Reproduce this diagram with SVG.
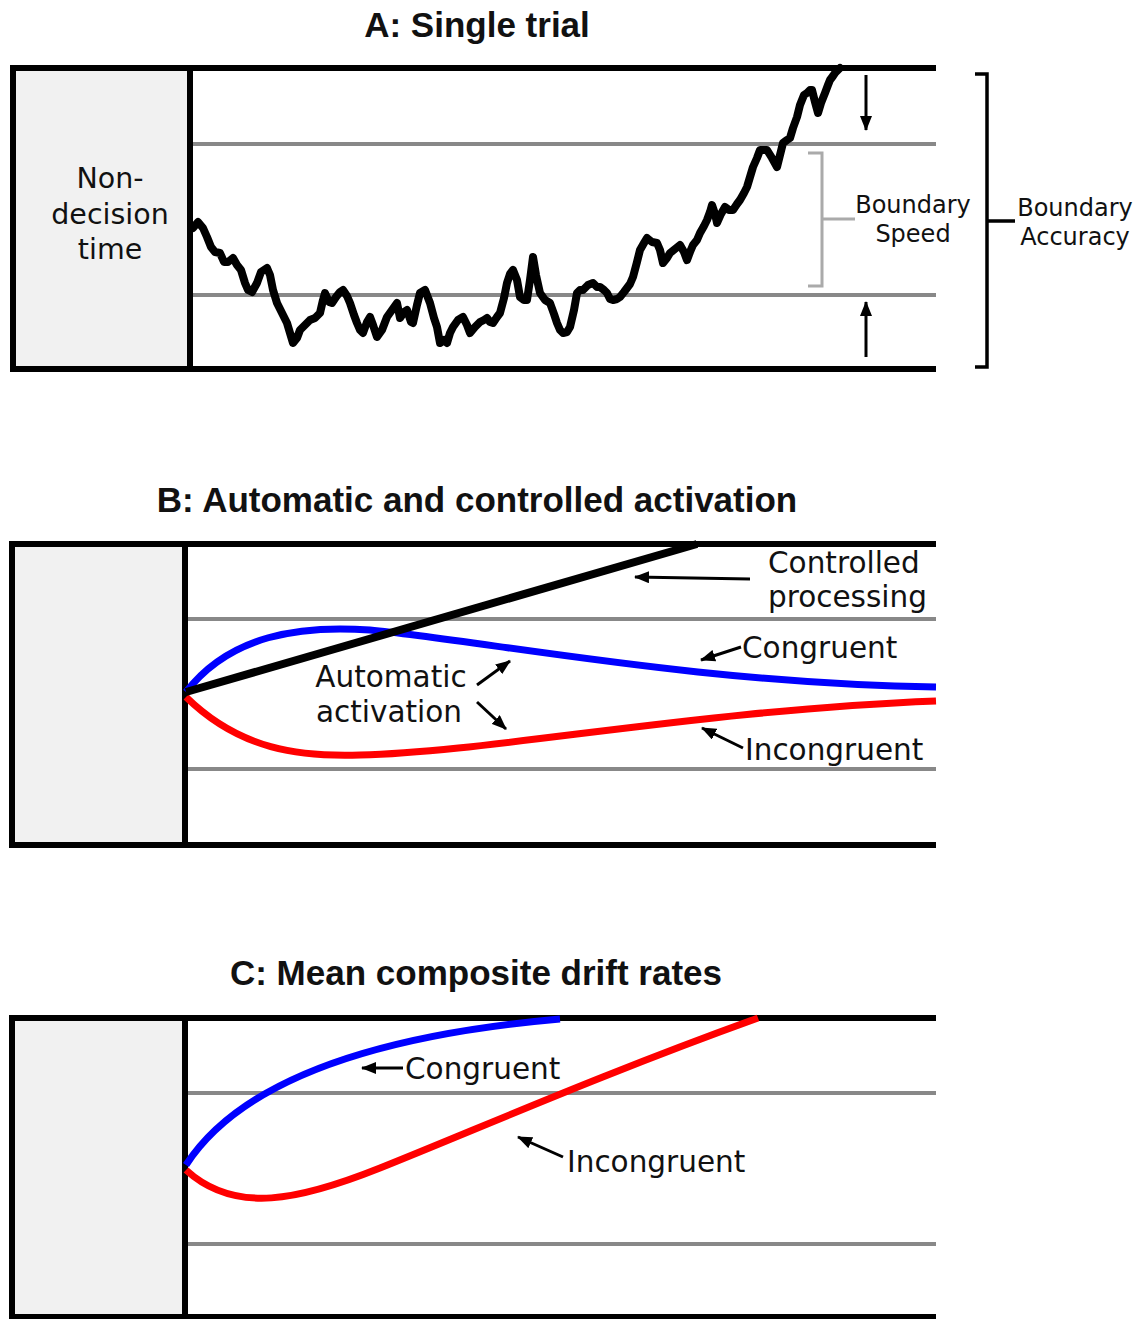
<svg xmlns="http://www.w3.org/2000/svg" width="1146" height="1319" viewBox="0 0 1146 1319">
<defs>
<marker id="ah" markerWidth="15" markerHeight="12" refX="14" refY="6" orient="auto" markerUnits="userSpaceOnUse">
<path d="M0,0 L15,6 L0,12 Z" fill="#000"/>
</marker>
<style>
.title{font-family:"Liberation Sans",Arial,sans-serif;font-weight:bold;font-size:35px;fill:#111;text-anchor:middle}
.lbl{font-family:"DejaVu Sans",Verdana,sans-serif;font-size:29.5px;fill:#111}
.ndtl{font-family:"DejaVu Sans",Verdana,sans-serif;font-size:28.5px;fill:#111;text-anchor:middle}
.lbs{font-family:"DejaVu Sans",Verdana,sans-serif;font-size:24px;fill:#111;text-anchor:middle}
.ndt{fill:#f1f1f1;stroke:#000;stroke-width:6}
.edge{stroke:#000;stroke-width:6;fill:none}
.bound{stroke:#888;stroke-width:4;fill:none}
.arr{stroke:#000;stroke-width:3;fill:none;marker-end:url(#ah)}
.curve{fill:none;stroke-width:7;stroke-linecap:butt}
</style>
</defs>
<rect width="1146" height="1319" fill="#fff"/>

<!-- Panel A -->
<g id="panelA">
<text class="title" x="477" y="37">A: Single trial</text>
<g id="A-ndt">
<rect class="ndt" x="13" y="68" width="177" height="301"/>
<text class="ndtl" x="110" y="188">Non-</text>
<text class="ndtl" x="110" y="224">decision</text>
<text class="ndtl" x="110" y="259">time</text>
</g>
<g id="A-frame">
<line class="edge" x1="10" y1="68" x2="936" y2="68"/>
<line class="edge" x1="10" y1="369" x2="936" y2="369"/>
<line class="bound" x1="193" y1="144" x2="936" y2="144"/>
<line class="bound" x1="193" y1="295" x2="936" y2="295"/>
</g>
<g id="A-walk">
<polyline fill="none" stroke="#000" stroke-width="8" stroke-linejoin="round" stroke-linecap="round" points="193,228 198,222 203,228 207,237 211,247 215,252 220,253 224,262 228,262 233,258 237,265 241,270 245,283 248,290 252,292 257,283 261,272 267,268 270,275 273,290 277,303 282,313 287,323 290,333 293,343 297,338 300,330 305,325 310,320 315,318 320,313 323,300 325,293 329,302 332,303 336,297 340,292 343,290 347,296 350,303 354,315 357,323 360,330 363,333 367,322 370,317 373,325 377,337 382,330 387,317 392,310 397,303 400,318 404,312 407,310 411,322 413,323 417,305 420,293 425,290 430,303 434,318 437,327 440,343 444,340 447,343 450,333 453,327 458,320 463,317 467,325 470,333 475,327 480,322 484,320 487,318 490,322 493,323 497,317 500,313 504,298 507,283 510,274 513,270 517,280 520,297 524,300 527,300 530,280 533,257 536,275 540,293 545,300 550,303 554,314 557,323 560,330 563,333 567,332 570,327 574,310 577,293 580,290 583,290 588,285 593,283 597,287 600,287 604,290 607,293 610,299 613,300 617,299 620,297 624,292 627,288 630,284 633,277 637,262 640,250 644,243 647,238 652,242 657,243 660,250 663,263 667,258 670,253 675,249 680,245 684,252 687,260 690,252 693,245 697,240 700,233 704,226 707,220 710,212 712,205 715,214 717,223 721,214 725,207 729,210 733,210 737,204 740,200 744,193 747,187 750,177 753,167 757,158 760,150 764,150 767,150 772,158 777,167 780,155 783,143 787,140 790,138 793,128 797,117 800,105 804,95 807,93 810,90 812,90 815,102 818,113 821,103 825,93 828,85 830,80 833,76 835,73 840,68"/>
</g>
<g id="A-speed">
<path d="M808,153 H822 V286 H808 M822,219 H855" fill="none" stroke="#aaa" stroke-width="3"/>
<text class="lbs" x="913" y="213">Boundary</text>
<text class="lbs" x="913" y="242">Speed</text>
</g>
<g id="A-accuracy">
<path d="M975,74 H987 V367 H975 M987,221 H1015" fill="none" stroke="#000" stroke-width="3.5"/>
<text class="lbs" x="1075" y="216">Boundary</text>
<text class="lbs" x="1075" y="245">Accuracy</text>
</g>
</g>

<!-- Panel B -->
<g id="panelB">
<text class="title" x="477" y="512">B: Automatic and controlled activation</text>
<g id="B-ndt">
<rect class="ndt" x="12" y="544" width="173" height="301"/>
</g>
<g id="B-frame">
<line class="edge" x1="9" y1="544" x2="936" y2="544"/>
<line class="edge" x1="9" y1="845" x2="936" y2="845"/>
<line class="bound" x1="188" y1="619" x2="936" y2="619"/>
<line class="bound" x1="188" y1="769" x2="936" y2="769"/>
</g>
<g id="B-curves">
<path class="curve" stroke="#0000ff" d="M186,692 C230,635 300,625 370,630 C480,640 700,684 936,687"/>
<path class="curve" stroke="#ff0000" d="M186,697 C240,750 300,757 360,755 C490,752 700,710 936,701"/>
<line x1="186" y1="692" x2="697" y2="544" stroke="#000" stroke-width="8"/>
</g>
<g id="B-labels">
<text class="lbl" x="768" y="573">Controlled</text>
<text class="lbl" x="768" y="607">processing</text>
<text class="lbl" x="742" y="658">Congruent</text>
<text class="lbl" x="745" y="760">Incongruent</text>
<text class="lbl" x="391" y="687" text-anchor="middle">Automatic</text>
<text class="lbl" x="389" y="722" text-anchor="middle">activation</text>
</g>
</g>

<!-- Panel C -->
<g id="panelC">
<text class="title" x="476" y="985">C: Mean composite drift rates</text>
<g id="C-ndt">
<rect class="ndt" x="12" y="1018" width="173" height="299"/>
</g>
<g id="C-frame">
<line class="edge" x1="9" y1="1018" x2="936" y2="1018"/>
<line class="edge" x1="9" y1="1317" x2="936" y2="1317"/>
<line class="bound" x1="188" y1="1093" x2="936" y2="1093"/>
<line class="bound" x1="188" y1="1244" x2="936" y2="1244"/>
</g>
<g id="C-curves">
<path class="curve" stroke="#0000ff" d="M186,1165 C225,1105 320,1040 560,1019"/>
<path class="curve" stroke="#ff0000" d="M186,1170 C235,1215 300,1200 380,1168 C480,1128 600,1075 758,1018"/>
</g>
<g id="C-labels">
<text class="lbl" x="405" y="1079">Congruent</text>
<text class="lbl" x="567" y="1172">Incongruent</text>
</g>
</g>

<!-- Connectors -->
<g id="connectors">
<line class="arr" x1="866" y1="75" x2="866" y2="130"/>
<line class="arr" x1="866" y1="357" x2="866" y2="302"/>
<line class="arr" x1="750" y1="579" x2="635" y2="577"/>
<line class="arr" x1="741" y1="647" x2="701" y2="660"/>
<line class="arr" x1="743" y1="748" x2="702" y2="728"/>
<line class="arr" x1="477" y1="685" x2="510" y2="661"/>
<line class="arr" x1="477" y1="702" x2="506" y2="729"/>
<line class="arr" x1="403" y1="1068" x2="362" y2="1068"/>
<line class="arr" x1="563" y1="1157" x2="518" y2="1137"/>
</g>
</svg>
